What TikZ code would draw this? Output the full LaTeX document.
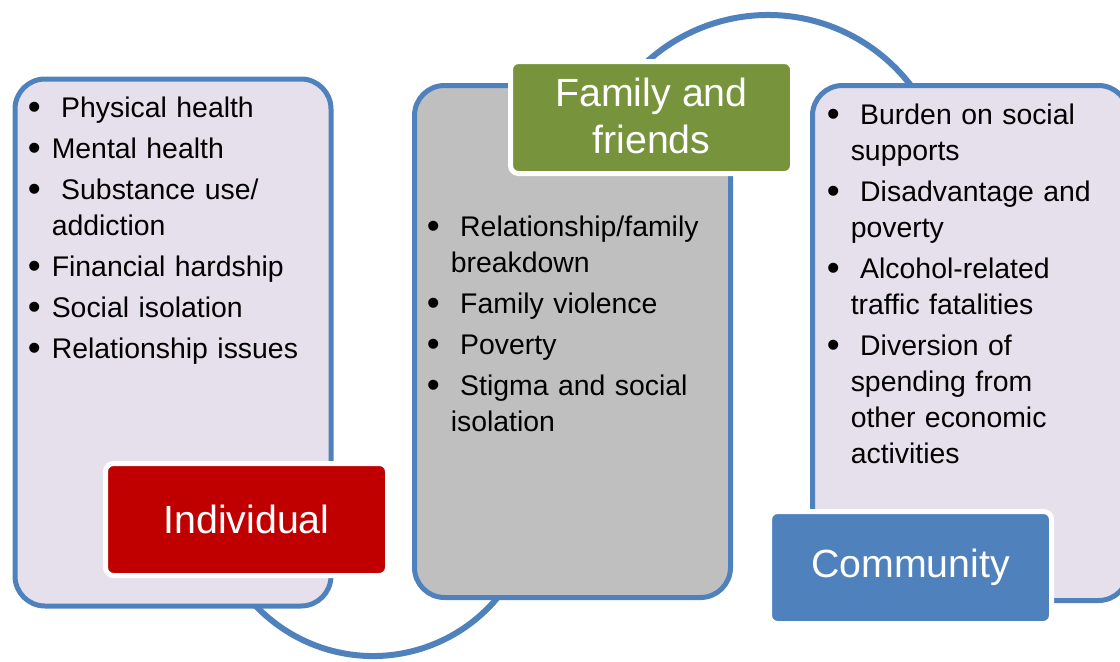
\documentclass[tikz,border=0pt]{standalone}
\usepackage{fontspec}
\setmainfont{Liberation Sans}
\usepackage{graphicx}
\usepackage{tikz}
\usetikzlibrary{positioning}

\definecolor{ringblue}{HTML}{4F81BD}
\definecolor{lilac}{HTML}{E5E0EC}
\definecolor{midgray}{HTML}{BFBFBF}
\definecolor{indivred}{HTML}{C00000}
\definecolor{famgreen}{HTML}{77933C}

\newcommand{\harmitem}[1]{\par\noindent\hangindent=18pt\hangafter=1%
  \makebox[18pt][l]{\raisebox{-2pt}{\scalebox{1.3}{\textbullet}}}\strut#1\par}

\begin{document}
\begin{tikzpicture}[x=0.75pt, y=-0.75pt,
    every node/.append style = {font=\fontsize{21.3pt}{27pt}\selectfont},
    ring/.style = {draw=ringblue, line width=4.5pt},
    panel/.style = {rectangle, draw=ringblue, line width=3.75pt, rounded corners=22.5pt,
      minimum width=237pt},
    tag/.style = {rectangle, draw=white, line width=3.75pt, rounded corners=6pt,
      minimum width=211.5pt, minimum height=84pt, inner sep=0pt, align=center,
      text=white, font=\fontsize{29.5pt}{35.25pt}\selectfont},
    harms/.style = {anchor=north west, inner sep=0pt, text width=245pt, align=left}
  ]
  \useasboundingbox (0,0) rectangle (1120,661);
  \clip (0,0) rectangle (1120,661);

  % rings behind the panels
  \coordinate (lowhub) at (373,494);
  \coordinate (tophub) at (768,195);
  \draw[ring] (lowhub) ++(160:162) arc[start angle=160, end angle=20, radius=162];
  \draw[ring] (tophub) ++(210:180) arc[start angle=210, end angle=330, radius=180];

  % panels
  \node[panel, fill=lilac, minimum height=395.25pt] (indivbox) at (173,342.5) {};
  \node[panel, fill=midgray, minimum height=384pt] (familybox) at (572.5,341.5) {};
  \node[panel, fill=lilac, minimum height=386.25pt] (commbox) at (970.5,343) {};

  % harm lists
  \node[harms] (indivlist) at (27.5,76) {\setlength{\parskip}{3.75pt}%
    \harmitem{\ Physical health}
    \harmitem{Mental health}
    \harmitem{\ Substance use/\newline addiction}
    \harmitem{Financial hardship}
    \harmitem{Social isolation}
    \harmitem{Relationship issues}};
  \node[harms] (familylist) at (426.5,195) {\setlength{\parskip}{3.75pt}%
    \harmitem{\ Relationship/family\newline breakdown}
    \harmitem{\ Family violence}
    \harmitem{\ Poverty}
    \harmitem{\ Stigma and social\newline isolation}};
  \node[harms] (commlist) at (826.5,83) {\setlength{\parskip}{3.75pt}%
    \harmitem{\ Burden on social\newline supports}
    \harmitem{\ Disadvantage and\newline poverty}
    \harmitem{\ Alcohol-related\newline traffic fatalities}
    \harmitem{\ Diversion of\newline spending from\newline other economic\newline activities}};

  % tags
  \node[tag, fill=indivred] (indivtag) at (246.5,519.5) {Individual};
  \node[tag, fill=famgreen] (familytag) at (651.5,117.5) {\raisebox{3pt}{\shortstack{Family and\\[5pt]friends}}};
  \node[tag, fill=ringblue] (commtag) at (910.5,567.5) {Community};
\end{tikzpicture}
\end{document}
